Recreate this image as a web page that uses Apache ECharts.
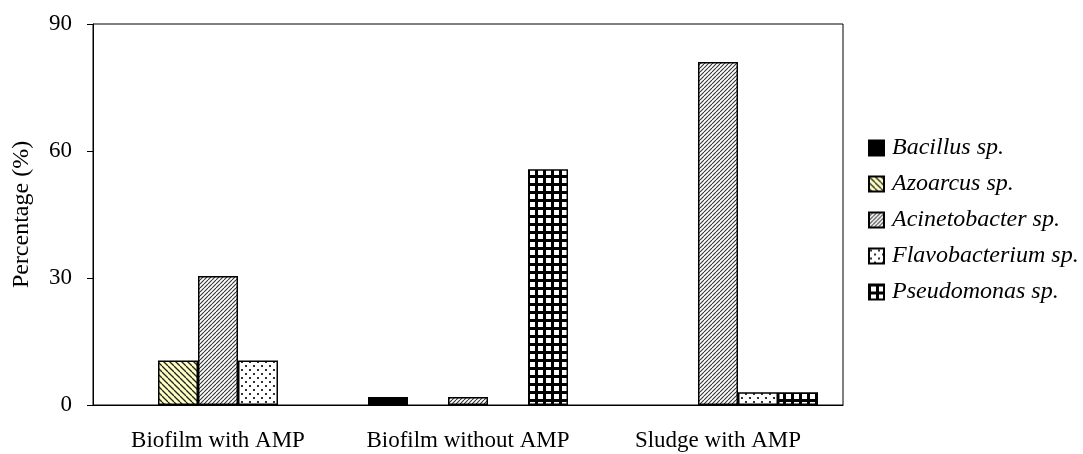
<!DOCTYPE html>
<html>
<head>
<meta charset="utf-8">
<script src="https://cdn.jsdelivr.net/npm/echarts@6/dist/echarts.min.js"></script>
<style>
  html, body { margin: 0; padding: 0; background: #fff; }
  #chart { width: 1083px; height: 454px; }
</style>
</head>
<body>
<div id="chart"></div>
<script>
// Sample groups along the x axis
const categories = ['Biofilm with AMP', 'Biofilm without AMP', 'Sludge with AMP'];

// Relative abundance (%) of each genus per sample
const bacillus       = [0, 1.9, 0];
const azoarcus       = [10.5, 0, 0];
const acinetobacter  = [30.5, 1.9, 81];
const flavobacterium = [10.5, 0, 3.0];
const pseudomonas    = [0, 55.7, 3.0];

const seriesNames = ['Bacillus sp.', 'Azoarcus sp.', 'Acinetobacter sp.', 'Flavobacterium sp.', 'Pseudomonas sp.'];
const seriesValues = [bacillus, azoarcus, acinetobacter, flavobacterium, pseudomonas];

const yTicks = [0, 30, 60, 90];

// --- hatch fills drawn on small tiles ---
function tile(size, draw) {
  const c = document.createElement('canvas');
  c.width = size; c.height = size;
  const ctx = c.getContext('2d');
  draw(ctx, size);
  return { image: c, repeat: 'repeat' };
}

// back-slash hatch on pale yellow
const fillAzo = tile(6, (ctx, s) => {
  ctx.fillStyle = '#ffffc4'; ctx.fillRect(0, 0, s, s);
  ctx.strokeStyle = '#222'; ctx.lineWidth = 1.3;
  for (let k = -1; k <= 1; k++) {
    ctx.beginPath(); ctx.moveTo(k * s, 0); ctx.lineTo(k * s + s, s); ctx.stroke();
  }
});

// dense forward-slash hatch
const fillAcin = tile(4, (ctx, s) => {
  ctx.fillStyle = '#fff'; ctx.fillRect(0, 0, s, s);
  ctx.strokeStyle = '#333'; ctx.lineWidth = 1.1;
  for (let k = -1; k <= 1; k++) {
    ctx.beginPath(); ctx.moveTo(k * s, s); ctx.lineTo(k * s + s, 0); ctx.stroke();
  }
});

// staggered dots
const fillFlavo = tile(8, (ctx, s) => {
  ctx.fillStyle = '#fff'; ctx.fillRect(0, 0, s, s);
  ctx.fillStyle = '#333';
  ctx.fillRect(1, 1, 2, 2);
  ctx.fillRect(5, 5, 2, 2);
});

// black grid with white cells
const fillPseudo = tile(8, (ctx, s) => {
  ctx.fillStyle = '#000'; ctx.fillRect(0, 0, s, s);
  ctx.fillStyle = '#fff'; ctx.fillRect(2, 2, 5, 5);
});

const fills = ['#000', fillAzo, fillAcin, fillFlavo, fillPseudo];

const serif = '"Liberation Serif", "DejaVu Serif", serif';

const chart = echarts.init(document.getElementById('chart'), null, { renderer: 'canvas' });

chart.setOption({
  animation: false,
  backgroundColor: '#fff',
  grid: {
    left: 93, top: 24, right: 240, bottom: 49,
    show: true, borderColor: '#000', borderWidth: 1, backgroundColor: 'transparent'
  },
  legend: {
    orient: 'vertical',
    left: 863, top: 131,
    itemWidth: 15, itemHeight: 15, itemGap: 12,
    icon: 'rect',
    data: seriesNames,
    textStyle: { fontFamily: serif, fontStyle: 'italic', fontSize: 24, color: '#000', padding: [0, 0, 0, 3] }
  },
  xAxis: {
    type: 'category',
    data: categories,
    axisLine: { lineStyle: { color: '#000', width: 1 } },
    axisTick: { inside: true, length: 6, lineStyle: { color: '#000' } },
    axisLabel: { interval: 0, hideOverlap: false, fontFamily: serif, fontSize: 23, color: '#000', margin: 24 }
  },
  yAxis: {
    type: 'value',
    min: 0, max: 90, interval: 30,
    name: 'Percentage (%)',
    nameLocation: 'middle',
    nameGap: 59,
    nameRotate: 90,
    nameTextStyle: { fontFamily: serif, fontSize: 24, color: '#000' },
    axisLine: { show: true, lineStyle: { color: '#000', width: 1 } },
    axisTick: { show: true, length: 6, lineStyle: { color: '#000' } },
    splitLine: { show: false },
    axisLabel: {
      fontFamily: serif, fontSize: 23, color: '#000', margin: 21,
      formatter: v => (yTicks.includes(v) ? String(v) : '')
    }
  },
  series: seriesNames.map((name, i) => ({
    name: name,
    type: 'bar',
    // absent genera are left undrawn
    data: seriesValues[i].map(v => (v === 0 ? '-' : v)),
    barGap: '0%',
    barCategoryGap: '20%',
    itemStyle: { color: fills[i], borderColor: '#000', borderWidth: 1.5 }
  }))
});
</script>
</body>
</html>
